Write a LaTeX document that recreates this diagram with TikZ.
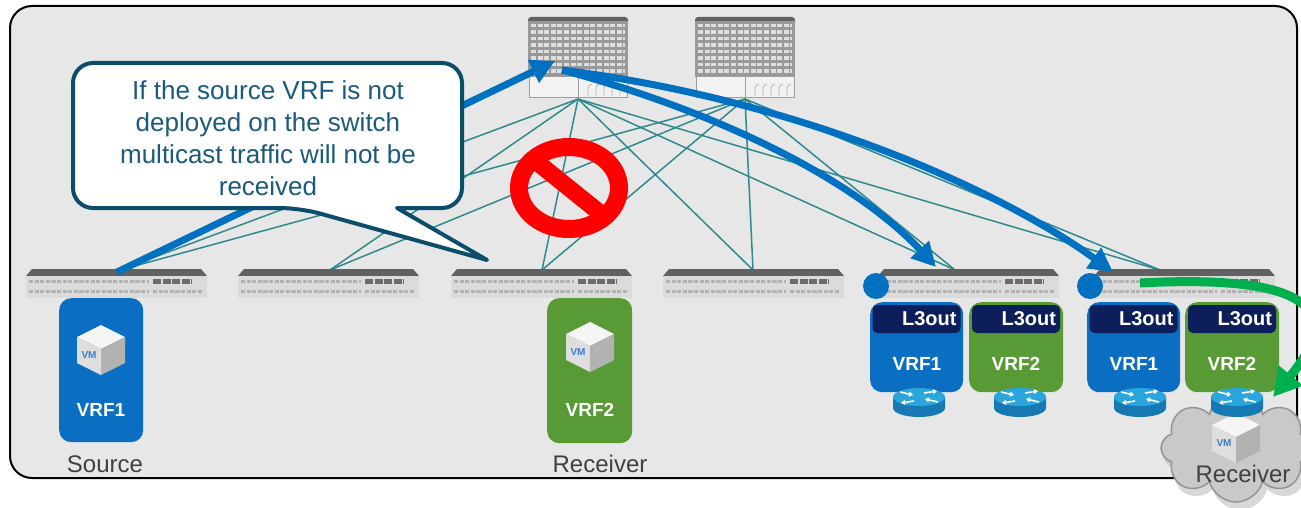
\documentclass[tikz,border=0pt]{standalone}
\usepackage{fontspec}
\setmainfont{Liberation Sans}
\usetikzlibrary{arrows.meta,shapes.symbols,calc}

\definecolor{framefill}{HTML}{E7E7E7}
\definecolor{linkteal}{HTML}{2F8A8D}
\definecolor{flowblue}{HTML}{0070C0}
\definecolor{vrfblue}{HTML}{0A6FC2}
\definecolor{vrfgreen}{HTML}{579A36}
\definecolor{hdrnavy}{HTML}{0C1F5A}
\definecolor{calloutline}{HTML}{0B4D6B}
\definecolor{callouttext}{HTML}{1B5A7A}
\definecolor{flowgreen}{HTML}{00B04F}
\definecolor{routertop}{HTML}{2AA6DD}
\definecolor{routerside}{HTML}{1679B4}
\definecolor{vmblue}{HTML}{3D7CC9}
\definecolor{nored}{HTML}{FF0000}
\definecolor{cloudgray}{HTML}{C9C9C9}
\definecolor{labelgray}{HTML}{404040}

% spine switch: name, left x
\newcommand{\spinesw}[2]{%
  \node[inner sep=0pt, minimum width=100pt, minimum height=82pt, anchor=north west] (#1) at (#2,17) {};
  \fill[black!62, rounded corners=3pt] (#2,17) rectangle (#2+100,26);
  \fill[black!40] (#2,21) rectangle (#2+100,77);
  \foreach \r in {0,...,7}
    \draw[black!13, line width=3.4pt, dash pattern=on 5pt off 1.6pt] (#2+3,25.5+\r*6.5) -- (#2+97,25.5+\r*6.5);
  \draw[black!38, fill=black!5, line width=1pt] (#2+1,77) rectangle (#2+99,98);
  \draw[black!38, line width=1pt] (#2+50,77) -- (#2+50,98);
  \foreach \i in {0,...,4}
    \draw[black!30, line width=0.8pt] (#2+60+\i*8,96) -- (#2+60+\i*8,88) to[out=90,in=180] (#2+64+\i*8,84);
  \coordinate (#1-port) at (#2+50,99);
}

% leaf switch: name, left x
\newcommand{\leafsw}[2]{%
  \node[inner sep=0pt, minimum width=181pt, minimum height=29pt, anchor=north west] (#1) at (#2,269) {};
  \fill[black!62] (#2+6,269) -- (#2+175,269) -- (#2+181,276) -- (#2,276) -- cycle;
  \fill[black!14] (#2,276) rectangle (#2+181,298);
  \draw[black!30, line width=3.6pt, dash pattern=on 4.2pt off 1.4pt] (#2+3,281.5) -- (#2+123,281.5);
  \draw[black!30, line width=3.6pt, dash pattern=on 4.2pt off 1.4pt] (#2+3,291.5) -- (#2+123,291.5);
  \draw[black!58, line width=4.5pt, dash pattern=on 8pt off 1.6pt] (#2+127,281.5) -- (#2+166,281.5);
  \draw[black!30, line width=3.6pt, dash pattern=on 4.2pt off 1.4pt] (#2+127,291.5) -- (#2+176,291.5);
}

% virtual machine cube: name, centre x, centre y
\newcommand{\vmcube}[3]{%
  \coordinate (#1) at (#2,#3);
  \fill[black!4] (#2,#3-25) -- (#2+24,#3-13) -- (#2,#3-1) -- (#2-24,#3-13) -- cycle;
  \fill[black!13] (#2-24,#3-13) -- (#2,#3-1) -- (#2,#3+25) -- (#2-24,#3+13) -- cycle;
  \fill[black!30] (#2+24,#3-13) -- (#2,#3-1) -- (#2,#3+25) -- (#2+24,#3+13) -- cycle;
  \node[text=vmblue, font=\bfseries\fontsize{10pt}{10pt}\selectfont, inner sep=0pt] (#1-tag) at (#2-12,#3+5) {VM};
}

% router: name, centre x, centre y
\newcommand{\routericon}[3]{%
  \node[inner sep=0pt, minimum width=52pt, minimum height=30pt] (#1) at (#2,#3) {};
  \fill[routerside] (#2-26,#3-5) -- (#2-26,#3+6) arc[start angle=180, end angle=0, x radius=26, y radius=9] -- (#2+26,#3-5) -- cycle;
  \fill[routertop] (#2,#3-5) ellipse[x radius=26, y radius=9];
  \begin{scope}[white, line width=1.6pt, -{Triangle[length=4pt,width=5pt]}]
    \draw (#2-19,#3-10) -- (#2-6,#3-7);
    \draw (#2+19,#3) -- (#2+6,#3-3);
    \draw (#2+5,#3-9) -- (#2+18,#3-11);
    \draw (#2-5,#3-1) -- (#2-18,#3+1);
  \end{scope}
}

\begin{document}
\begin{tikzpicture}[x=1pt,y=-1pt,
  link/.style={draw=linkteal, line width=1.5pt},
  flow/.style={draw=flowblue, line width=7pt, -{Triangle[length=24pt,width=24pt]}},
  greenflow/.style={draw=flowgreen, line width=9pt, -{Triangle[length=28pt,width=30pt]}},
  vrfbox/.style={rounded corners=12pt, inner sep=0pt, anchor=north west},
  vrflabel/.style={text=white, font=\bfseries\fontsize{19pt}{19pt}\selectfont},
  hdr/.style={fill=hdrnavy, rounded corners=5pt, minimum height=28pt, text width=80pt, align=right, inner xsep=4pt, inner ysep=0pt, text=white, font=\bfseries\fontsize{20pt}{20pt}\selectfont},
  caption/.style={text=labelgray, font=\fontsize{24pt}{24pt}\selectfont},
  callout/.style={draw=calloutline, line width=4pt, fill=white, line join=round},
  dot/.style={circle, fill=flowblue, minimum size=26pt, inner sep=0pt}]

\useasboundingbox (0,0) rectangle (1301,508);

% fabric frame
\draw[line width=2pt, fill=framefill, rounded corners=22pt] (10,6) rectangle (1297,478);

% link end points
\coordinate (lf1-port) at (120,270);
\coordinate (lf2-port) at (330,270);
\coordinate (lf3-port) at (542,270);
\coordinate (lf4-port) at (753,270);
\coordinate (lf5-port) at (955,270);
\coordinate (lf6-port) at (1160,270);

% spines
\spinesw{sp1}{528}
\spinesw{sp2}{695}

% fabric links
\foreach \s in {sp1,sp2}
  \foreach \l in {lf1,lf2,lf3,lf4,lf5,lf6}
    \draw[link] (\s-port) -- (\l-port);

% leaves
\leafsw{lf1}{26}
\leafsw{lf2}{238}
\leafsw{lf3}{451}
\leafsw{lf4}{663}
\leafsw{lf5}{878}
\leafsw{lf6}{1094}

% forbidden sign
\node[inner sep=0pt, minimum width=118pt, minimum height=100pt] (nosign) at (569,188) {};
\draw[nored, line width=18pt] (nosign.center) ellipse[x radius=50, y radius=41];
\draw[nored, line width=17pt] ($(nosign.center)+(-36,-29)$) -- ($(nosign.center)+(36,29)$);

% multicast flow
\coordinate (src-up) at (117,272);
\coordinate (sp1-in) at (555,61);
\coordinate (sp1-out) at (562,70);
\coordinate (lf5-in) at (936,267);
\coordinate (lf6-in) at (1113,272);
\draw[flow] (src-up) -- (sp1-in);
\draw[flow] (sp1-out) .. controls (730,115) and (860,185) .. (lf5-in);
\draw[flow] (sp1-out) .. controls (800,100) and (1000,190) .. (lf6-in);

% callout
\draw[callout, rounded corners=20pt] (268,63) -- (73,63) -- (73,208) -- (300,208) [sharp corners] -- (487,260) -- (397,208) [rounded corners=20pt] -- (462,208) -- (462,63) -- cycle;
\node[align=center, text=callouttext, font=\fontsize{26pt}{32pt}\selectfont] (note) at (268,138)
  {If the source VRF is not\\deployed on the switch\\multicast traffic will not be\\received};

% source and receiver endpoints
\node[vrfbox, fill=vrfblue, minimum width=84pt, minimum height=144pt] (srcbox) at (59,298) {};
\vmcube{srcvm}{101}{350}
\node[vrflabel] (srcvrf) at (101,410) {VRF1};
\node[caption] (srclabel) at (105,464) {Source};

\node[vrfbox, fill=vrfgreen, minimum width=85pt, minimum height=145pt] (rcvbox) at (547,298) {};
\vmcube{rcvvm}{590}{347}
\node[vrflabel] (rcvvrf) at (590,410) {VRF2};
\node[caption] (rcvlabel) at (600,464) {Receiver};

% border leaf L3outs
\node[vrfbox, fill=vrfblue, minimum width=93pt, minimum height=90pt] (b5v1) at (870,302) {};
\node[vrfbox, fill=vrfgreen, minimum width=94pt, minimum height=90pt] (b5v2) at (969,302) {};
\node[vrfbox, fill=vrfblue, minimum width=93pt, minimum height=90pt] (b6v1) at (1087,302) {};
\node[vrfbox, fill=vrfgreen, minimum width=94pt, minimum height=90pt] (b6v2) at (1185,302) {};
\node[hdr] (b5v1h) at (916.5,319) {L3out};
\node[hdr] (b5v2h) at (1016,319) {L3out};
\node[hdr] (b6v1h) at (1133.5,319) {L3out};
\node[hdr] (b6v2h) at (1232,319) {L3out};
\node[vrflabel] (b5v1t) at (917,364) {VRF1};
\node[vrflabel] (b5v2t) at (1016,364) {VRF2};
\node[vrflabel] (b6v1t) at (1134,364) {VRF1};
\node[vrflabel] (b6v2t) at (1232,364) {VRF2};

% external receiver cloud
\node[cloud, cloud puffs=8, aspect=1.35, fill=black!30, opacity=0.5, minimum width=154pt, minimum height=112pt] (cloudshadow) at (1240,454) {};
\node[cloud, cloud puffs=8, aspect=1.35, fill=cloudgray, draw=black!42, line width=1.5pt, minimum width=150pt, minimum height=108pt] (cloud) at (1236,448) {};
\vmcube{extvm}{1236}{438}
\node[caption] (extlabel) at (1243,474) {Receiver};

% routers
\routericon{r1}{919}{402}
\routericon{r2}{1020}{402}
\routericon{r3}{1140}{402}
\routericon{r4}{1237}{402}

% border leaf markers
\node[dot] (dot5) at (876,286) {};
\node[dot] (dot6) at (1090,286) {};

% flow to the external receiver
\coordinate (grn-start) at (1140,283);
\coordinate (grn-end) at (1273,397);
\draw[greenflow] (grn-start) .. controls (1310,274) and (1345,310) .. (grn-end);

\end{tikzpicture}
\end{document}
